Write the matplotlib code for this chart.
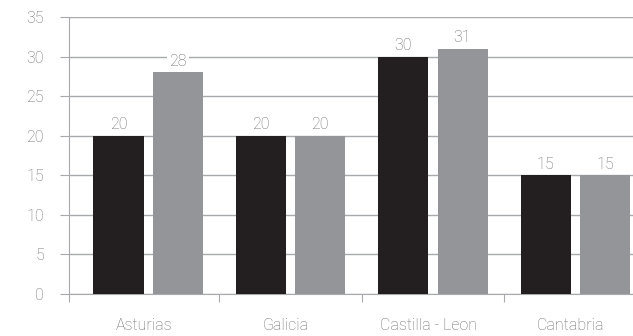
import numpy as np
import matplotlib.pyplot as plt
from matplotlib import font_manager

regions = ["Asturias", "Galicia", "Castilla - Leon", "Cantabria"]
series_a = [20, 20, 30, 15]
series_b = [28, 20, 31, 15]
yticks = [0, 5, 10, 15, 20, 25, 30, 35]

names = {f.name for f in font_manager.fontManager.ttflist}
family = ['Liberation Sans Narrow', 'DejaVu Sans'] if 'Liberation Sans Narrow' in names else ['Roboto', 'DejaVu Sans']
plt.rcParams['font.family'] = family
plt.rcParams['font.weight'] = 'light'

text_c = "#6d6e71"
grid_c = "#a7a9ac"

fig = plt.figure(figsize=(6.33, 3.36), dpi=100)
ax = fig.add_axes([69 / 633, 1 - 294 / 336, 1 - 69 / 633, (294 - 17) / 336])

x = np.arange(len(regions))
w = 0.352
off = 0.208
bars_a = ax.bar(x - off, series_a, w, color="#231f20", zorder=3)
bars_b = ax.bar(x + off, series_b, w, color="#939598", zorder=3)

for bars in (bars_a, bars_b):
    for b in bars:
        ax.text(b.get_x() + b.get_width() / 2, b.get_height() + 0.45, f"{int(b.get_height())}",
                ha="center", va="bottom", fontsize=11.5, color=text_c, zorder=4,
                bbox=dict(facecolor="white", edgecolor="none", pad=1.5))

ax.set_ylim(0, 35)
ax.set_xlim(-0.556, 3.405)
ax.set_yticks(yticks)
ax.yaxis.grid(True, color=grid_c, linewidth=1, zorder=0)
ax.set_axisbelow(True)

for s in ["top", "right"]:
    ax.spines[s].set_visible(False)
ax.spines["left"].set_color(grid_c)
ax.spines["bottom"].set_color(grid_c)

ax.tick_params(axis="y", length=6.5, color=grid_c, labelcolor=text_c, labelsize=11.5, pad=11.5)
ax.set_xticks([-0.556, 0.5, 1.5, 2.5])
ax.set_xticklabels([])
ax.tick_params(axis="x", length=5.8, color=grid_c)
for i, r in enumerate(regions):
    ax.text(i - 0.03, -0.085, r, transform=ax.get_xaxis_transform(), ha="center", va="top",
            fontsize=11.5, color=text_c)

fig.savefig("out.png", dpi=100)
